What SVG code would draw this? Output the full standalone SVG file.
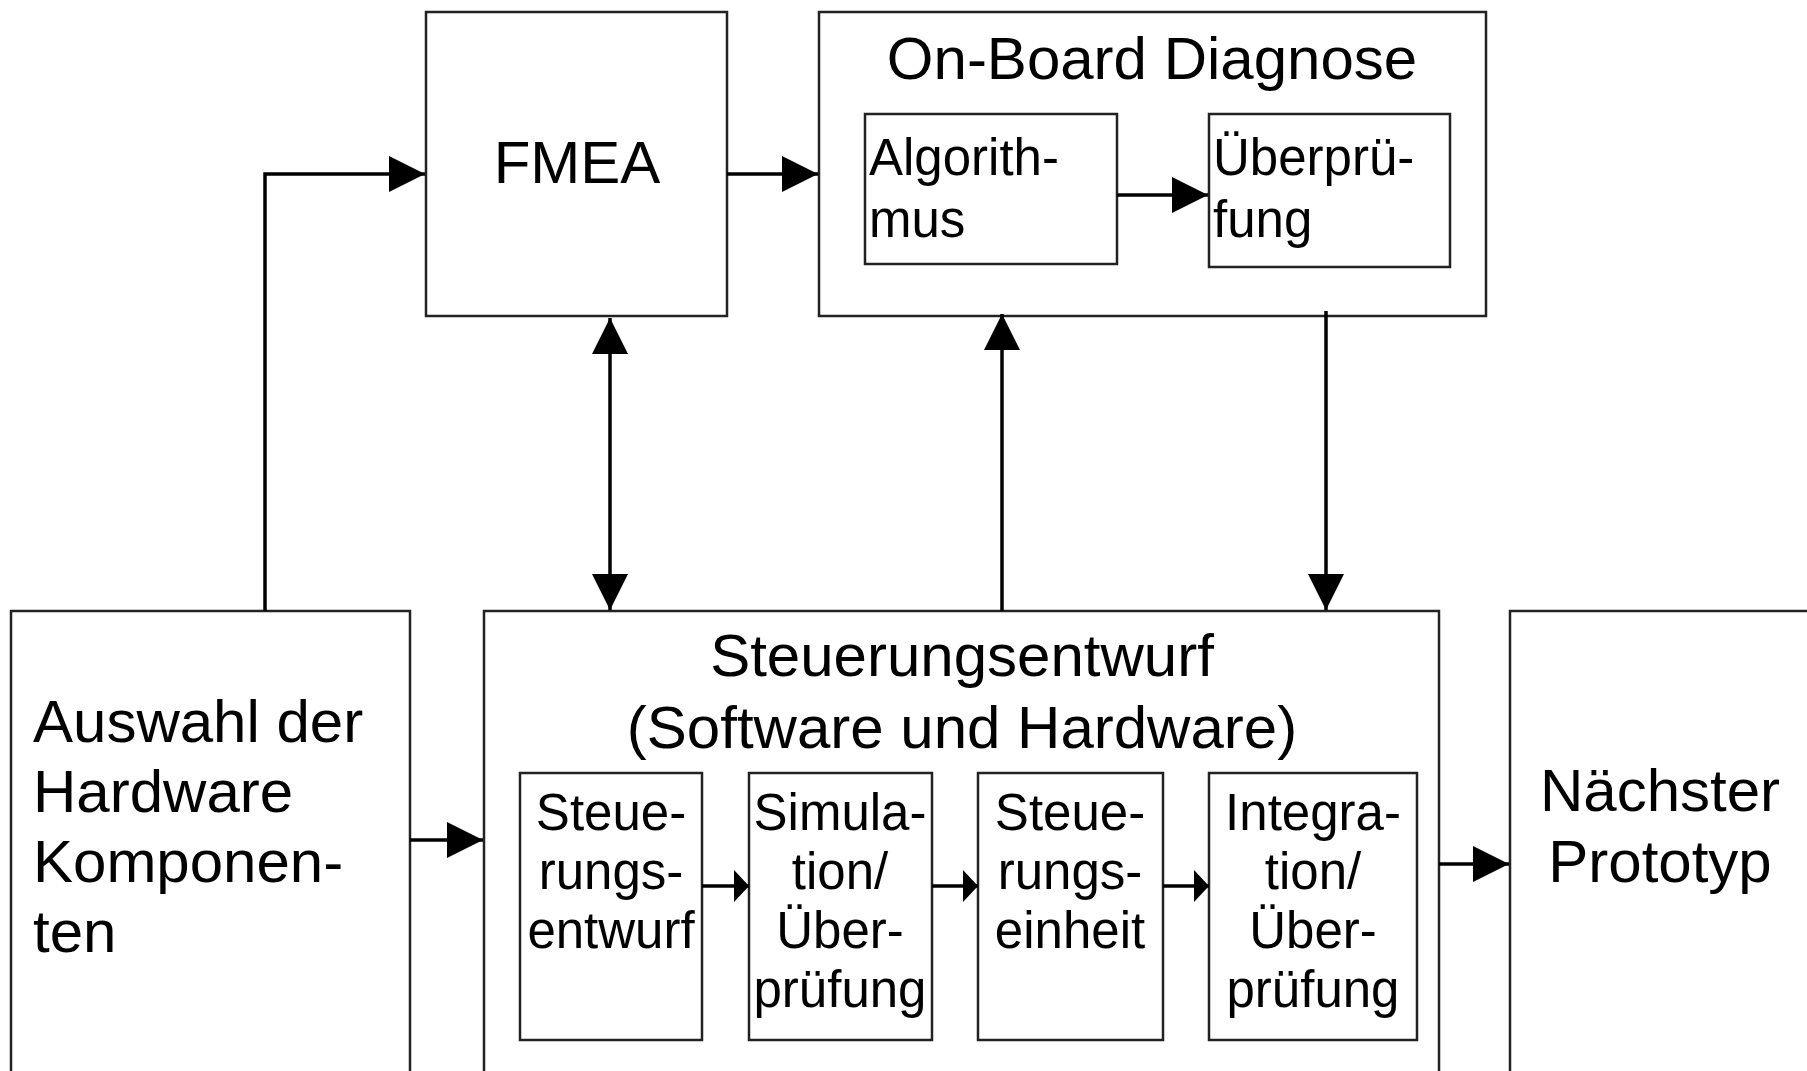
<svg xmlns="http://www.w3.org/2000/svg" width="1807" height="1071" viewBox="0 0 1807 1071">
<style>
.box{fill:#fff;stroke:#222;stroke-width:2.5}
.t{font-family:"Liberation Sans",Arial,sans-serif;fill:#000}
.big{font-size:60px}
.sm{font-size:51px}
.mid{text-anchor:middle}
.c{fill:none;stroke:#000;stroke-width:3.5}
</style>
<defs>
<marker id="ah" markerUnits="userSpaceOnUse" markerWidth="36" markerHeight="36" refX="36" refY="18" orient="auto-start-reverse"><path d="M0,0 L36,18 L0,36 Z" fill="#000"/></marker>
<marker id="as" markerUnits="userSpaceOnUse" markerWidth="15" markerHeight="32" refX="15" refY="16" orient="auto"><path d="M0,0 L15,16 L0,32 Z" fill="#000"/></marker>
</defs>
<rect width="1807" height="1071" fill="#fff"/>
<g id="fmea">
<rect class="box" x="426" y="12" width="301" height="304"/>
<text class="t big mid" x="577" y="183">FMEA</text>
</g>
<g id="obd">
<rect class="box" x="819" y="12" width="667" height="304"/>
<text class="t big mid" x="1152" y="79">On-Board Diagnose</text>
</g>
<g id="algorithmus">
<rect class="box" x="865" y="114" width="252" height="150"/>
<text class="t sm" x="869" y="175">Algorith-</text>
<text class="t sm" x="869" y="237">mus</text>
</g>
<g id="ueberpruefung">
<rect class="box" x="1209" y="114" width="241" height="153"/>
<text class="t sm" x="1213" y="175">Überprü-</text>
<text class="t sm" x="1213" y="237">fung</text>
</g>
<g id="auswahl">
<rect class="box" x="11" y="611" width="399" height="470"/>
<text class="t big" x="33" y="742">Auswahl der</text>
<text class="t big" x="33" y="812">Hardware</text>
<text class="t big" x="33" y="882">Komponen-</text>
<text class="t big" x="33" y="952">ten</text>
</g>
<g id="steuerungsentwurf">
<rect class="box" x="484" y="611" width="955" height="470"/>
<text class="t big mid" x="962" y="676">Steuerungsentwurf</text>
<text class="t big mid" x="962" y="748">(Software und Hardware)</text>
</g>
<g id="steuerungsentwurf-inner">
<rect class="box" x="520" y="773" width="182" height="267"/>
<text class="t sm mid" x="611" y="830">Steue-</text>
<text class="t sm mid" x="611" y="889">rungs-</text>
<text class="t sm mid" x="611" y="948">entwurf</text>
</g>
<g id="simulation">
<rect class="box" x="749" y="773" width="183" height="267"/>
<text class="t sm mid" x="840" y="830">Simula-</text>
<text class="t sm mid" x="840" y="889">tion/</text>
<text class="t sm mid" x="840" y="948">Über-</text>
<text class="t sm mid" x="840" y="1007">prüfung</text>
</g>
<g id="steuerungseinheit">
<rect class="box" x="978" y="773" width="185" height="267"/>
<text class="t sm mid" x="1070" y="830">Steue-</text>
<text class="t sm mid" x="1070" y="889">rungs-</text>
<text class="t sm mid" x="1070" y="948">einheit</text>
</g>
<g id="integration">
<rect class="box" x="1209" y="773" width="208" height="267"/>
<text class="t sm mid" x="1313" y="830">Integra-</text>
<text class="t sm mid" x="1313" y="889">tion/</text>
<text class="t sm mid" x="1313" y="948">Über-</text>
<text class="t sm mid" x="1313" y="1007">prüfung</text>
</g>
<g id="prototyp">
<rect class="box" x="1510" y="611" width="310" height="470"/>
<text class="t big mid" x="1660" y="811">Nächster</text>
<text class="t big mid" x="1660" y="882">Prototyp</text>
</g>
<g id="connectors">
<path class="c" d="M265,611 V174 H425" marker-end="url(#ah)"/>
<path class="c" d="M727,174 H818" marker-end="url(#ah)"/>
<path class="c" d="M1117,195 H1208" marker-end="url(#ah)"/>
<path class="c" d="M610,318 V610" marker-start="url(#ah)" marker-end="url(#ah)"/>
<path class="c" d="M1002,611 V314" marker-end="url(#ah)"/>
<path class="c" d="M1326,311 V610" marker-end="url(#ah)"/>
<path class="c" d="M410,840 H483" marker-end="url(#ah)"/>
<path class="c" d="M1439,864 H1509" marker-end="url(#ah)"/>
<path class="c" d="M702,886 H749" marker-end="url(#as)"/>
<path class="c" d="M932,886 H978" marker-end="url(#as)"/>
<path class="c" d="M1163,886 H1209" marker-end="url(#as)"/>
</g>
</svg>
